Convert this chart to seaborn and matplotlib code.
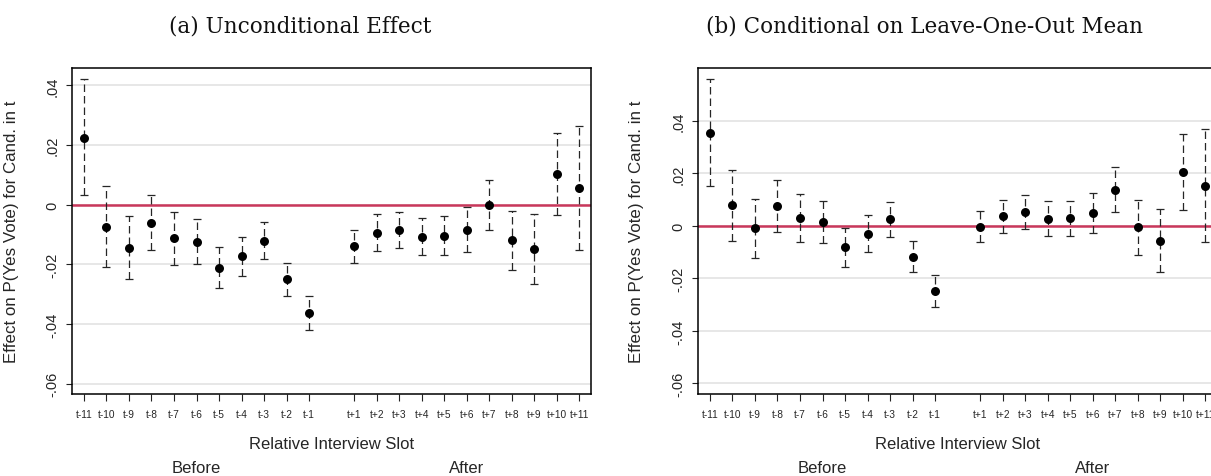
import numpy as np
import pandas as pd
import matplotlib
matplotlib.use("Agg")
import matplotlib.pyplot as plt
import matplotlib.transforms as mtransforms
import seaborn as sns

# ---------------- data ----------------
slots = [-11, -10, -9, -8, -7, -6, -5, -4, -3, -2, -1, 1, 2, 3, 4, 5, 6, 7, 8, 9, 10, 11]
slot_labels = ["t-11", "t-10", "t-9", "t-8", "t-7", "t-6", "t-5", "t-4", "t-3", "t-2", "t-1",
               "t+1", "t+2", "t+3", "t+4", "t+5", "t+6", "t+7", "t+8", "t+9", "t+10", "t+11"]

a_est = [0.0225, -0.0074, -0.0144, -0.0060, -0.0113, -0.0124, -0.0212, -0.0172, -0.0121, -0.0250, -0.0363,
         -0.0139, -0.0094, -0.0085, -0.0107, -0.0104, -0.0084, 0.0000, -0.0118, -0.0147, 0.0103, 0.0057]
a_lo = [0.0031, -0.0209, -0.0249, -0.0153, -0.0202, -0.0199, -0.0279, -0.0238, -0.0181, -0.0306, -0.0421,
        -0.0194, -0.0155, -0.0146, -0.0169, -0.0169, -0.0160, -0.0084, -0.0218, -0.0265, -0.0035, -0.0151]
a_hi = [0.0420, 0.0064, -0.0037, 0.0034, -0.0023, -0.0049, -0.0142, -0.0107, -0.0059, -0.0195, -0.0306,
        -0.0084, -0.0032, -0.0023, -0.0045, -0.0039, -0.0009, 0.0084, -0.0020, -0.0032, 0.0240, 0.0263]

b_est = [0.0354, 0.0079, -0.0008, 0.0077, 0.0030, 0.0014, -0.0081, -0.0030, 0.0027, -0.0117, -0.0249,
         -0.0003, 0.0037, 0.0053, 0.0028, 0.0029, 0.0050, 0.0137, -0.0005, -0.0056, 0.0204, 0.0152]
b_lo = [0.0152, -0.0057, -0.0121, -0.0024, -0.0060, -0.0066, -0.0155, -0.0099, -0.0042, -0.0176, -0.0307,
        -0.0061, -0.0027, -0.0011, -0.0038, -0.0038, -0.0028, 0.0051, -0.0110, -0.0175, 0.0062, -0.0062]
b_hi = [0.0560, 0.0212, 0.0104, 0.0176, 0.0123, 0.0094, -0.0009, 0.0041, 0.0091, -0.0057, -0.0188,
        0.0056, 0.0100, 0.0119, 0.0095, 0.0096, 0.0127, 0.0225, 0.0100, 0.0065, 0.0348, 0.0368]

y_ticks = [-0.06, -0.04, -0.02, 0.0, 0.02, 0.04]
y_tick_labels = ["-.06", "-.04", "-.02", "0", ".02", ".04"]

titles = ["(a) Unconditional Effect", "(b) Conditional on Leave-One-Out Mean"]
y_label = "Effect on P(Yes Vote) for Cand. in t"
x_label = "Relative Interview Slot"
group_labels = ["Before", "After"]
group_centers = [-6, 6]

# ---------------- style ----------------
sns.set_theme(style="white")
plt.rcParams["font.family"] = ["Liberation Sans", "DejaVu Sans"]

W, H = 1211, 477
fig = plt.figure(figsize=(W / 100, H / 100), dpi=100)

def px_axes(l, t, r, b):
    return fig.add_axes([l / W, 1 - b / H, (r - l) / W, (b - t) / H])

ax_a = px_axes(72, 69, 591, 395)
ax_b = px_axes(698, 69, 1217, 395)

panels = [
    (ax_a, a_est, a_lo, a_hi, (-0.0634, 0.0458)),
    (ax_b, b_est, b_lo, b_hi, (-0.0640, 0.0601)),
]

red = "#C9375B"
for ax, est, lo, hi, ylim in panels:
    df = pd.DataFrame({"slot": slots, "est": est, "lo": lo, "hi": hi})
    for yv in y_ticks:
        ax.axhline(yv, color="#e3e3e3", lw=1.2, zorder=0)
    ax.axhline(0, color=red, lw=1.8, zorder=1)
    err = np.vstack([df["est"] - df["lo"], df["hi"] - df["est"]])
    eb = ax.errorbar(df["slot"], df["est"], yerr=err, fmt="none", ecolor="#262626",
                     elinewidth=0.9, capsize=2.9, capthick=0.9, zorder=2)
    for lc in eb[2]:
        lc.set_linestyle((0, (6, 3.2)))
    sns.scatterplot(data=df, x="slot", y="est", ax=ax, color="black", s=42,
                    edgecolor="black", linewidth=0, zorder=3, legend=False)
    ax.set_xlim(-11.53, 11.52)
    ax.set_ylim(*ylim)
    ax.set_xticks(slots)
    ax.set_xticklabels(slot_labels, fontsize=7.3)
    ax.set_yticks(y_ticks)
    ax.set_yticklabels(y_tick_labels, fontsize=10.5, rotation=90, va="center")
    ax.tick_params(axis="x", direction="out", length=5, width=0.8, color="#222222", pad=5.5, bottom=True)
    ax.tick_params(axis="y", direction="out", length=4, width=0.8, color="#222222", pad=5, left=True)
    ax.set_xlabel("")
    ax.set_ylabel(y_label, fontsize=12.2, labelpad=8)
    for sp in ax.spines.values():
        sp.set_color("black")
        sp.set_linewidth(1.1)
    trans = mtransforms.blended_transform_factory(ax.transAxes, fig.transFigure)
    ax.text(0.5, 1 - 444.3 / H, x_label, transform=trans, ha="center", va="center", fontsize=12)
    trans2 = mtransforms.blended_transform_factory(ax.transData, fig.transFigure)
    for lab, cx in zip(group_labels, group_centers):
        ax.text(cx, 1 - 468.3 / H, lab, transform=trans2, ha="center", va="center", fontsize=12)

for title, tx in zip(titles, [300, 925]):
    fig.text(tx / W, 1 - 27 / H, title, ha="center", va="center", fontsize=15.5,
             family=["DejaVu Serif"], color="#111111")

# ylabel x positions
ax_a.yaxis.set_label_coords((18.8 - 72) / 519, 0.5)
ax_b.yaxis.set_label_coords((643.7 - 698) / 519, 0.5)

fig.savefig("out.png", dpi=100)
